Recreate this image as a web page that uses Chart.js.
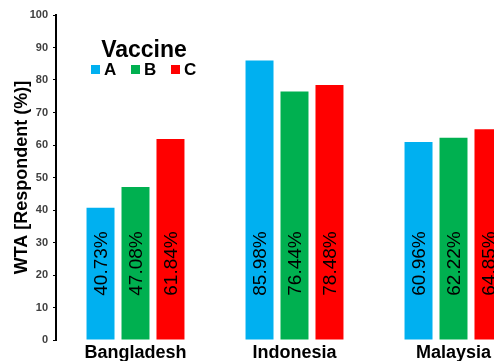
<!DOCTYPE html>
<html>
<head>
<meta charset="utf-8">
<script src="https://cdn.jsdelivr.net/npm/chart.js@4"></script>
<style>
  html, body { margin: 0; padding: 0; background: #fff; overflow: hidden; }
  #wrap { width: 540px; height: 361px; position: relative; }
</style>
</head>
<body>
<div id="wrap"><canvas id="wtaChart"></canvas></div>
<script>
const countries = ["Bangladesh", "Indonesia", "Malaysia"];
const vaccineA = [40.73, 85.98, 60.96];
const vaccineB = [47.08, 76.44, 62.22];
const vaccineC = [61.84, 78.48, 64.85];
const vaccineNames = ["A", "B", "C"];
const barColors = ["#00B0F0", "#00B050", "#FF0000"];

const FONT = "Arial, 'Liberation Sans', sans-serif";

// percent labels written vertically inside each bar
const barLabels = {
  id: "barLabels",
  afterDatasetsDraw(chart) {
    const ctx = chart.ctx;
    ctx.save();
    ctx.font = "19px " + FONT;
    ctx.fillStyle = "#000";
    ctx.textAlign = "center";
    ctx.textBaseline = "middle";
    chart.data.datasets.forEach((ds, i) => {
      chart.getDatasetMeta(i).data.forEach((bar, j) => {
        ctx.save();
        ctx.translate(bar.x, bar.base - 76);
        ctx.rotate(-Math.PI / 2);
        ctx.fillText(ds.data[j].toFixed(2) + "%", 0, 1);
        ctx.restore();
      });
    });
    ctx.restore();
  }
};

// "Vaccine" legend box inside the plot
const vaccineLegend = {
  id: "vaccineLegend",
  afterDraw(chart) {
    const ctx = chart.ctx;
    const left = chart.chartArea.left;
    ctx.save();
    ctx.fillStyle = "#000";
    ctx.textAlign = "center";
    ctx.textBaseline = "alphabetic";
    ctx.font = "bold 23px " + FONT;
    ctx.fillText("Vaccine", left + 88, 57);
    ctx.font = "bold 17px " + FONT;
    ctx.textAlign = "left";
    chart.data.datasets.forEach((ds, i) => {
      const x = left + 35 + i * 40;
      ctx.fillStyle = ds.backgroundColor;
      ctx.fillRect(x, 65, 9, 9);
      ctx.fillStyle = "#000";
      ctx.fillText(ds.label, x + 13, 75);
    });
    ctx.restore();
  }
};

new Chart(document.getElementById("wtaChart"), {
  type: "bar",
  data: {
    labels: countries,
    datasets: [
      { label: vaccineNames[0], data: vaccineA, backgroundColor: barColors[0] },
      { label: vaccineNames[1], data: vaccineB, backgroundColor: barColors[1] },
      { label: vaccineNames[2], data: vaccineC, backgroundColor: barColors[2] },
    ],
  },
  options: {
    responsive: true,
    maintainAspectRatio: false,
    animation: false,
    layout: { padding: { top: 15, right: 7, bottom: 0, left: 0 } },
    datasets: { bar: { categoryPercentage: 0.66, barPercentage: 0.8 } },
    plugins: {
      legend: { display: false },
      tooltip: { enabled: false },
    },
    scales: {
      x: {
        grid: { display: false, drawTicks: false },
        border: { display: false },
        ticks: {
          color: "#000",
          font: { family: FONT, size: 18, weight: "bold" },
          padding: 2,
          maxRotation: 0,
        },
        afterFit: (s) => { s.height = 21; },
      },
      y: {
        min: 0,
        max: 100,
        ticks: {
          stepSize: 10,
          color: "#404040",
          font: { family: FONT, size: 11, weight: "bold" },
          padding: 5,
        },
        grid: {
          drawOnChartArea: false,
          drawTicks: true,
          tickLength: 3,
          color: "#000",
          lineWidth: 1,
        },
        border: { display: true, color: "#000", width: 2 },
        title: {
          display: true,
          text: "WTA [Respondent (%)]",
          color: "#000",
          font: { family: FONT, size: 18, weight: "bold" },
          padding: { top: 11, bottom: 0 },
        },
        afterFit: (s) => { s.width = 56; },
      },
    },
  },
  plugins: [barLabels, vaccineLegend],
});
</script>
</body>
</html>
